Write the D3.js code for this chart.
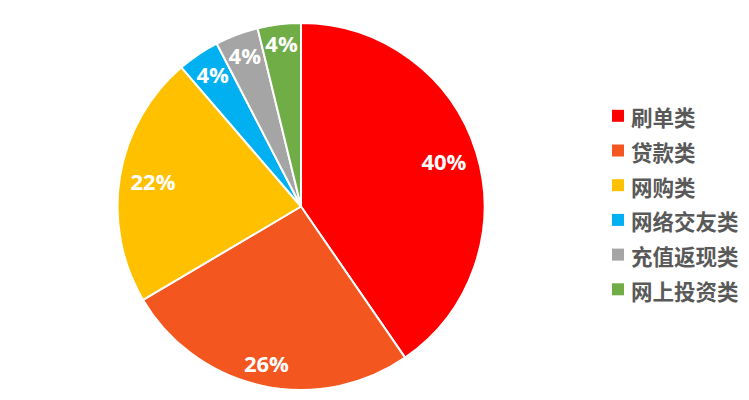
<!DOCTYPE html>
<html>
<head>
<meta charset="utf-8">
<script src="https://cdn.jsdelivr.net/npm/d3@7"></script>
<style>
  html, body { margin: 0; padding: 0; background: #ffffff; }
  svg { display: block; }
</style>
</head>
<body>
<svg id="chart" width="749" height="400"></svg>
<script>
// Data
const categories = ["刷单类", "贷款类", "网购类", "网络交友类", "充值返现类", "网上投资类"];
const values = [40.4, 26.1, 22.2, 3.7, 3.8, 3.8];
const colors = ["#FF0000", "#F4561F", "#FFC000", "#00B0F0", "#A5A5A5", "#70AD47"];

const svg = d3.select("#chart");
const cx = 301, cy = 206.5, R = 183.5;

const pie = d3.pie().value(d => d).sort(null);
const arcs = pie(values);
const arc = d3.arc().innerRadius(0).outerRadius(R);

const g = svg.append("g").attr("transform", `translate(${cx},${cy})`);

g.selectAll("path.slice")
  .data(arcs)
  .join("path")
  .attr("class", "slice")
  .attr("d", arc)
  .attr("fill", (d, i) => colors[i])
  .attr("stroke", "#ffffff")
  .attr("stroke-width", 2)
  .attr("stroke-linejoin", "round");

// Labels (inside end placement)
const fontSize = 22;
const capH = fontSize * 0.714;
const total = d3.sum(values);
const labels = g.selectAll("text.lbl")
  .data(arcs)
  .join("text")
  .attr("class", "lbl")
  .attr("text-anchor", "middle")
  .attr("font-family", "'Open Sans', 'Liberation Sans', sans-serif")
  .attr("font-weight", 700)
  .attr("font-size", fontSize)
  .attr("fill", "#ffffff")
  .text(d => Math.round(d.data / total * 100) + "%");

labels.each(function(d) {
  const w = this.getComputedTextLength();
  const a = (d.startAngle + d.endAngle) / 2;
  const ux = Math.sin(a), uy = -Math.cos(a);
  const ext = Math.abs(ux) * w / 2 + Math.abs(uy) * capH / 2;
  const r = R - ext - 10;
  d3.select(this)
    .attr("x", ux * r)
    .attr("y", uy * r + capH / 2);
});

// Legend
const legend = svg.append("g").attr("transform", "translate(612,115.8)");
const rowH = 34.7;
const items = legend.selectAll("g.item")
  .data(categories)
  .join("g")
  .attr("class", "item")
  .attr("transform", (d, i) => `translate(0,${i * rowH})`);

items.append("rect")
  .attr("x", 0)
  .attr("y", -6)
  .attr("width", 12)
  .attr("height", 12)
  .attr("fill", (d, i) => colors[i]);

items.append("text")
  .attr("x", 19)
  .attr("y", 1)
  .attr("dominant-baseline", "central")
  .attr("font-family", "'Noto Sans CJK SC', sans-serif")
  .attr("font-weight", 700)
  .attr("font-size", 21.5)
  .attr("fill", "#595959")
  .text(d => d);
</script>
</body>
</html>
